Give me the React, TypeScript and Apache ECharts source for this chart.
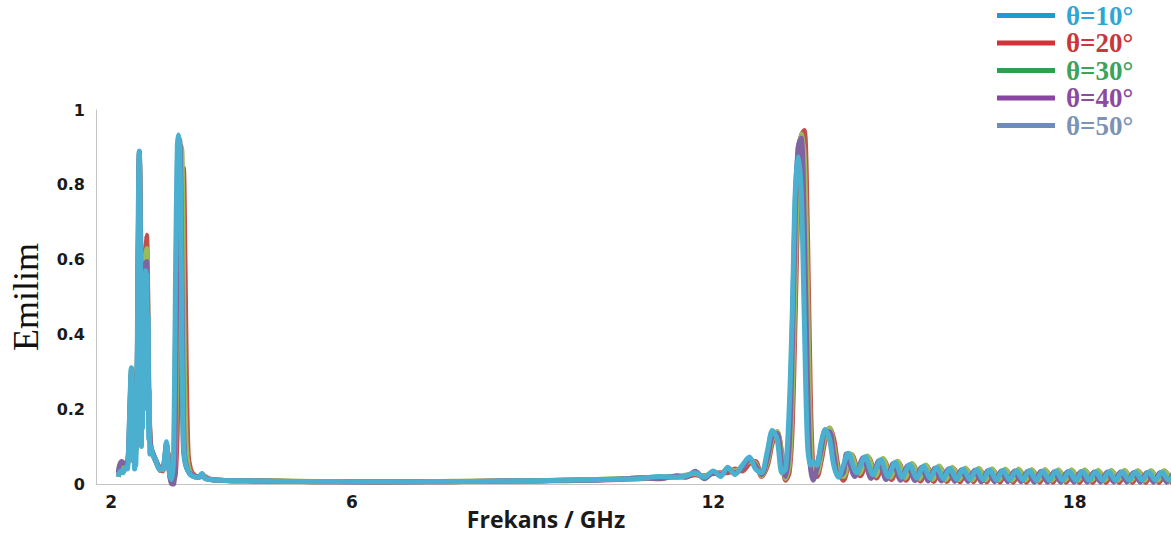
import React, { useEffect, useRef } from "react";
import * as echarts from "echarts";

// ---------- Frequency samples (GHz) ----------
// low-band samples shared by θ=20°..50°
const freqLeft = [
  2.12, 2.14, 2.18, 2.22, 2.26, 2.29, 2.31, 2.34, 2.37, 2.4,
  2.43, 2.45, 2.47, 2.49, 2.51, 2.53, 2.55, 2.57, 2.59, 2.61,
  2.63, 2.66, 2.7, 2.74, 2.78, 2.82, 2.86, 2.89, 2.92, 2.95,
  2.98, 3.01, 3.04, 3.07, 3.1, 3.12, 3.14, 3.16, 3.18, 3.2,
  3.22, 3.25, 3.28, 3.32, 3.37, 3.42, 3.47, 3.51, 3.56, 3.65,
  3.8, 4.0,
];
// low-band samples of θ=10° (denser, it oscillates fast there)
const freqLeft10 = [
  2.12, 2.16, 2.2, 2.24, 2.27, 2.29, 2.31, 2.335, 2.355, 2.37,
  2.38, 2.39, 2.4, 2.41, 2.42, 2.435, 2.45, 2.468, 2.485, 2.5,
  2.505, 2.515, 2.525, 2.535, 2.545, 2.555, 2.565, 2.575, 2.585, 2.595,
  2.605, 2.615, 2.625, 2.635, 2.645, 2.66, 2.7, 2.74, 2.78, 2.82,
  2.86, 2.89, 2.92, 2.95, 2.98, 3.01, 3.04, 3.07, 3.1, 3.12,
  3.14, 3.16, 3.18, 3.2, 3.22, 3.25, 3.28, 3.32, 3.37, 3.42,
  3.47, 3.51, 3.56, 3.65, 3.8, 4.0,
];
const freqMid = [4.5, 5.0, 5.5, 6.0, 6.5, 7.0, 7.5, 8.0, 8.5, 9.0, 9.5, 10.0, 10.4, 10.8, 11.1, 11.4];
const freqPeak = [
  11.55, 11.7, 11.85, 12.0, 12.12, 12.24, 12.36, 12.48, 12.6, 12.7,
  12.8, 12.9, 12.98, 13.06, 13.14, 13.2, 13.26, 13.31, 13.36, 13.41,
  13.46, 13.51, 13.56, 13.61, 13.66, 13.72, 13.79, 13.86, 13.93, 14.0,
  14.08, 14.16,
];
// ripple tail: each curve's crests sit at slightly different frequencies
const freqTail10 = [
  14.24, 14.38, 14.52, 14.65, 14.78, 14.9, 15.02, 15.14, 15.26, 15.38,
  15.49, 15.6, 15.71, 15.82, 15.93, 16.04, 16.15, 16.26, 16.37, 16.48,
  16.59, 16.7, 16.81, 16.92, 17.03, 17.14, 17.25, 17.36, 17.47, 17.58,
  17.69, 17.8, 17.91, 18.02, 18.13, 18.24, 18.35, 18.46, 18.57, 18.68,
  18.79, 18.9, 19.01, 19.12, 19.23, 19.34, 19.45, 19.56, 19.67,
];
const freqTail20 = [
  14.3, 14.44, 14.58, 14.71, 14.84, 14.96, 15.08, 15.2, 15.32, 15.44,
  15.55, 15.66, 15.77, 15.88, 15.99, 16.1, 16.21, 16.32, 16.43, 16.54,
  16.65, 16.76, 16.87, 16.98, 17.09, 17.2, 17.31, 17.42, 17.53, 17.64,
  17.75, 17.86, 17.97, 18.08, 18.19, 18.3, 18.41, 18.52, 18.63, 18.74,
  18.85, 18.96, 19.07, 19.18, 19.29, 19.4, 19.51, 19.62, 19.73,
];
const freqTail30 = [
  14.28, 14.42, 14.56, 14.69, 14.82, 14.94, 15.06, 15.18, 15.3, 15.42,
  15.53, 15.64, 15.75, 15.86, 15.97, 16.08, 16.19, 16.3, 16.41, 16.52,
  16.63, 16.74, 16.85, 16.96, 17.07, 17.18, 17.29, 17.4, 17.51, 17.62,
  17.73, 17.84, 17.95, 18.06, 18.17, 18.28, 18.39, 18.5, 18.61, 18.72,
  18.83, 18.94, 19.05, 19.16, 19.27, 19.38, 19.49, 19.6, 19.71,
];
const freqTail40 = [
  14.21, 14.35, 14.49, 14.62, 14.75, 14.87, 14.99, 15.11, 15.23, 15.35,
  15.46, 15.57, 15.68, 15.79, 15.9, 16.01, 16.12, 16.23, 16.34, 16.45,
  16.56, 16.67, 16.78, 16.89, 17.0, 17.11, 17.22, 17.33, 17.44, 17.55,
  17.66, 17.77, 17.88, 17.99, 18.1, 18.21, 18.32, 18.43, 18.54, 18.65,
  18.76, 18.87, 18.98, 19.09, 19.2, 19.31, 19.42, 19.53, 19.64,
];
const freqTail50 = [
  14.26, 14.4, 14.54, 14.67, 14.8, 14.92, 15.04, 15.16, 15.28, 15.4,
  15.51, 15.62, 15.73, 15.84, 15.95, 16.06, 16.17, 16.28, 16.39, 16.5,
  16.61, 16.72, 16.83, 16.94, 17.05, 17.16, 17.27, 17.38, 17.49, 17.6,
  17.71, 17.82, 17.93, 18.04, 18.15, 18.26, 18.37, 18.48, 18.59, 18.7,
  18.81, 18.92, 19.03, 19.14, 19.25, 19.36, 19.47, 19.58, 19.69,
];

// ---------- θ=10° ----------
const t10Left = [
  0.02, 0.035, 0.03, 0.045, 0.04, 0.09, 0.2, 0.31, 0.2, 0.06,
  0.1, 0.04, 0.1, 0.05, 0.12, 0.35, 0.7, 0.89, 0.7, 0.3,
  0.1, 0.45, 0.15, 0.5, 0.2, 0.55, 0.25, 0.57, 0.3, 0.56,
  0.25, 0.45, 0.12, 0.25, 0.08, 0.1, 0.075, 0.065, 0.045, 0.04,
  0.04, 0.07, 0.113, 0.06, 0.02, 0.012, 0.08, 0.55, 0.9, 0.933,
  0.9, 0.7, 0.35, 0.12, 0.07, 0.045, 0.035, 0.025, 0.02, 0.018,
  0.02, 0.028, 0.015, 0.012, 0.01, 0.009,
];
const t10Mid = [0.008, 0.007, 0.007, 0.006, 0.006, 0.006, 0.007, 0.007, 0.008, 0.009, 0.01, 0.011, 0.013, 0.015, 0.02, 0.018];
const t10Peak = [
  0.022, 0.03, 0.018, 0.035, 0.02, 0.045, 0.025, 0.05, 0.072, 0.04,
  0.03, 0.09, 0.143, 0.12, 0.03, 0.04, 0.2, 0.45, 0.78, 0.875,
  0.78, 0.45, 0.12, 0.05, 0.06, 0.05, 0.11, 0.145, 0.12, 0.05,
  0.018, 0.05,
];
const t10Tail = [
  0.082, 0.03, 0.073, 0.025, 0.065, 0.02, 0.058, 0.018, 0.052, 0.016,
  0.048, 0.015, 0.045, 0.014, 0.042, 0.013, 0.04, 0.012, 0.039, 0.012,
  0.038, 0.011, 0.037, 0.011, 0.036, 0.011, 0.036, 0.01, 0.035, 0.01,
  0.035, 0.01, 0.034, 0.01, 0.034, 0.01, 0.033, 0.01, 0.033, 0.01,
  0.033, 0.01, 0.032, 0.01, 0.032, 0.01, 0.032, 0.01, 0.031,
];

// ---------- θ=20° ----------
const t20Left = [
  0.02, 0.03, 0.04, 0.045, 0.045, 0.07, 0.15, 0.29, 0.15, 0.07,
  0.2, 0.55, 0.87, 0.7, 0.35, 0.3, 0.45, 0.6, 0.665, 0.5,
  0.22, 0.1, 0.08, 0.065, 0.05, 0.04, 0.035, 0.05, 0.09, 0.08,
  0.03, 0.01, 0.01, 0.03, 0.15, 0.35, 0.6, 0.78, 0.84, 0.845,
  0.7, 0.3, 0.08, 0.04, 0.025, 0.02, 0.018, 0.025, 0.02, 0.013,
  0.01, 0.009,
];
const t20Mid = [0.008, 0.007, 0.006, 0.006, 0.005, 0.006, 0.006, 0.007, 0.008, 0.009, 0.009, 0.011, 0.012, 0.017, 0.014, 0.022];
const t20Peak = [
  0.02, 0.025, 0.022, 0.028, 0.03, 0.03, 0.04, 0.035, 0.055, 0.06,
  0.02, 0.05, 0.11, 0.14, 0.08, 0.01, 0.03, 0.15, 0.45, 0.78,
  0.93, 0.945, 0.7, 0.25, 0.03, 0.02, 0.06, 0.12, 0.15, 0.12,
  0.04, 0.01,
];
const t20Tail = [
  0.078, 0.022, 0.07, 0.016, 0.062, 0.012, 0.056, 0.01, 0.05, 0.008,
  0.046, 0.007, 0.043, 0.007, 0.041, 0.006, 0.039, 0.006, 0.038, 0.006,
  0.037, 0.005, 0.036, 0.005, 0.036, 0.005, 0.035, 0.005, 0.035, 0.005,
  0.034, 0.005, 0.034, 0.004, 0.034, 0.004, 0.033, 0.004, 0.033, 0.004,
  0.033, 0.004, 0.033, 0.004, 0.032, 0.004, 0.032, 0.004, 0.032,
];

// ---------- θ=30° ----------
const t30Left = [
  0.02, 0.03, 0.04, 0.045, 0.05, 0.08, 0.17, 0.3, 0.14, 0.075,
  0.22, 0.58, 0.88, 0.66, 0.38, 0.35, 0.48, 0.6, 0.63, 0.46,
  0.2, 0.095, 0.078, 0.062, 0.048, 0.038, 0.038, 0.06, 0.1, 0.07,
  0.025, 0.01, 0.02, 0.1, 0.4, 0.65, 0.85, 0.905, 0.88, 0.6,
  0.3, 0.1, 0.05, 0.03, 0.022, 0.019, 0.02, 0.026, 0.018, 0.012,
  0.01, 0.009,
];
const t30Mid = [0.009, 0.008, 0.007, 0.007, 0.006, 0.006, 0.007, 0.008, 0.008, 0.009, 0.01, 0.012, 0.014, 0.014, 0.019, 0.02];
const t30Peak = [
  0.024, 0.028, 0.02, 0.032, 0.028, 0.04, 0.035, 0.045, 0.06, 0.055,
  0.022, 0.06, 0.12, 0.14, 0.07, 0.015, 0.05, 0.22, 0.55, 0.85,
  0.935, 0.88, 0.55, 0.15, 0.03, 0.03, 0.075, 0.13, 0.15, 0.1,
  0.03, 0.02,
];
const t30Tail = [
  0.08, 0.028, 0.075, 0.022, 0.068, 0.018, 0.061, 0.016, 0.055, 0.014,
  0.051, 0.013, 0.048, 0.012, 0.045, 0.012, 0.043, 0.011, 0.042, 0.011,
  0.041, 0.011, 0.04, 0.01, 0.04, 0.01, 0.039, 0.01, 0.039, 0.01,
  0.038, 0.01, 0.038, 0.01, 0.038, 0.01, 0.037, 0.01, 0.037, 0.01,
  0.037, 0.01, 0.036, 0.01, 0.036, 0.01, 0.036, 0.01, 0.036,
];

// ---------- θ=40° ----------
const t40Left = [
  0.03, 0.05, 0.06, 0.055, 0.05, 0.08, 0.18, 0.3, 0.13, 0.08,
  0.23, 0.6, 0.885, 0.63, 0.4, 0.4, 0.5, 0.59, 0.595, 0.43,
  0.19, 0.1, 0.08, 0.065, 0.05, 0.04, 0.042, 0.065, 0.105, 0.065,
  0.015, 0.0, 0.0, 0.2, 0.7, 0.88, 0.92, 0.8, 0.5, 0.2,
  0.08, 0.05, 0.035, 0.028, 0.022, 0.02, 0.02, 0.027, 0.016, 0.012,
  0.01, 0.009,
];
const t40Mid = [0.008, 0.007, 0.006, 0.006, 0.006, 0.006, 0.006, 0.007, 0.008, 0.008, 0.01, 0.01, 0.013, 0.016, 0.015, 0.021];
const t40Peak = [
  0.018, 0.034, 0.014, 0.03, 0.026, 0.038, 0.03, 0.042, 0.065, 0.05,
  0.025, 0.07, 0.13, 0.135, 0.05, 0.02, 0.1, 0.35, 0.7, 0.9,
  0.925, 0.7, 0.3, 0.05, 0.01, 0.04, 0.09, 0.14, 0.14, 0.08,
  0.02, 0.03,
];
const t40Tail = [
  0.08, 0.02, 0.07, 0.015, 0.062, 0.012, 0.055, 0.01, 0.049, 0.009,
  0.045, 0.008, 0.042, 0.008, 0.04, 0.007, 0.038, 0.007, 0.037, 0.006,
  0.036, 0.006, 0.035, 0.006, 0.035, 0.006, 0.034, 0.005, 0.034, 0.005,
  0.033, 0.005, 0.033, 0.005, 0.033, 0.005, 0.032, 0.005, 0.032, 0.005,
  0.032, 0.005, 0.031, 0.005, 0.031, 0.005, 0.031, 0.005, 0.031,
];

// ---------- θ=50° ----------
const t50Left = [
  0.02, 0.035, 0.045, 0.05, 0.05, 0.09, 0.19, 0.31, 0.12, 0.08,
  0.24, 0.61, 0.89, 0.62, 0.46, 0.55, 0.56, 0.5, 0.45, 0.35,
  0.17, 0.09, 0.076, 0.06, 0.046, 0.036, 0.04, 0.068, 0.11, 0.062,
  0.02, 0.01, 0.04, 0.4, 0.85, 0.925, 0.88, 0.65, 0.3, 0.1,
  0.065, 0.045, 0.035, 0.025, 0.02, 0.018, 0.02, 0.027, 0.015, 0.012,
  0.01, 0.009,
];
const t50Mid = [0.008, 0.007, 0.007, 0.006, 0.006, 0.006, 0.007, 0.007, 0.008, 0.009, 0.01, 0.011, 0.013, 0.015, 0.018, 0.019];
const t50Peak = [
  0.02, 0.03, 0.016, 0.033, 0.022, 0.042, 0.028, 0.047, 0.07, 0.045,
  0.028, 0.08, 0.138, 0.13, 0.04, 0.03, 0.15, 0.4, 0.75, 0.9,
  0.93, 0.65, 0.25, 0.06, 0.03, 0.05, 0.1, 0.145, 0.13, 0.06,
  0.02, 0.04,
];
const t50Tail = [
  0.08, 0.028, 0.071, 0.023, 0.063, 0.019, 0.056, 0.017, 0.05, 0.015,
  0.046, 0.014, 0.043, 0.013, 0.041, 0.012, 0.039, 0.012, 0.038, 0.011,
  0.037, 0.011, 0.036, 0.011, 0.035, 0.01, 0.035, 0.01, 0.034, 0.01,
  0.034, 0.01, 0.033, 0.01, 0.033, 0.01, 0.033, 0.01, 0.032, 0.01,
  0.032, 0.01, 0.032, 0.01, 0.031, 0.01, 0.031, 0.01, 0.031,
];

const seriesNames = ["θ=10°", "θ=20°", "θ=30°", "θ=40°", "θ=50°"];
const plotColors = ["#4bb0cf", "#c0504d", "#9bbb59", "#8064a2", "#4f81bd"];
const legendLineColors = ["#1e9bd7", "#d0343a", "#2f9e4e", "#8a44a2", "#6e8bbd"];
const legendTextColors = ["#2ea6d6", "#c9373b", "#3ba35a", "#8c4b9e", "#7c93b5"];
const xTickValues = [2, 6, 12, 18];
const drawOrder = [4, 1, 2, 3, 0];

function pairs(xs: number[], ys: number[]) {
  return xs.map((x, i) => [x, ys[i]]);
}

export default function App() {
  const ref = useRef<HTMLDivElement>(null);

  useEffect(() => {
    if (!ref.current) return;
    const chart = echarts.init(ref.current, null, { renderer: "svg" });

    const curves = [
      [...pairs(freqLeft10, t10Left), ...pairs(freqMid, t10Mid), ...pairs(freqPeak, t10Peak), ...pairs(freqTail10, t10Tail)],
      [...pairs(freqLeft, t20Left), ...pairs(freqMid, t20Mid), ...pairs(freqPeak, t20Peak), ...pairs(freqTail20, t20Tail)],
      [...pairs(freqLeft, t30Left), ...pairs(freqMid, t30Mid), ...pairs(freqPeak, t30Peak), ...pairs(freqTail30, t30Tail)],
      [...pairs(freqLeft, t40Left), ...pairs(freqMid, t40Mid), ...pairs(freqPeak, t40Peak), ...pairs(freqTail40, t40Tail)],
      [...pairs(freqLeft, t50Left), ...pairs(freqMid, t50Mid), ...pairs(freqPeak, t50Peak), ...pairs(freqTail50, t50Tail)],
    ];

    chart.setOption({
      animation: false,
      backgroundColor: "#ffffff",
      grid: { left: 96, right: 0, top: 110, bottom: 52, containLabel: false },
      xAxis: {
        type: "value",
        min: 1.75,
        max: 19.6,
        axisLine: { show: true, lineStyle: { color: "#c4c4c4", width: 1 } },
        axisTick: { show: false },
        splitLine: { show: false },
        axisLabel: {
          customValues: xTickValues,
          color: "#1a1a1a",
          fontFamily: "DejaVu Sans",
          fontWeight: "bold",
          fontSize: 17,
          margin: 9,
        },
      },
      yAxis: {
        type: "value",
        min: 0,
        max: 1,
        interval: 0.2,
        axisLine: { show: true, lineStyle: { color: "#c4c4c4", width: 1 } },
        axisTick: { show: false },
        splitLine: { show: false },
        axisLabel: {
          color: "#1a1a1a",
          fontFamily: "DejaVu Sans",
          fontWeight: "bold",
          fontSize: 16,
          margin: 11,
        },
        name: "Emilim",
        nameLocation: "middle",
        nameGap: 52,
        nameTextStyle: {
          fontFamily: "Liberation Serif",
          fontSize: 36,
          color: "#111111",
        },
      },
      legend: {
        orient: "vertical",
        left: 997,
        top: 2,
        padding: 0,
        icon: "rect",
        itemWidth: 58,
        itemHeight: 5,
        itemGap: 0.5,
        selectedMode: false,
        textStyle: {
          fontFamily: "Liberation Serif",
          fontWeight: "bold",
          fontSize: 27,
          lineHeight: 25,
          padding: [0, 0, 0, 6],
        },
        data: seriesNames.map((n, i) => ({
          name: n,
          itemStyle: { color: legendLineColors[i] },
          textStyle: { color: legendTextColors[i] },
        })),
      },
      graphic: [
        {
          type: "text",
          x: 546,
          y: 519,
          style: {
            text: "Frekans / GHz",
            fontFamily: "Open Sans",
            fontWeight: "bold",
            fontSize: 23,
            fill: "#1a1a1a",
            align: "center",
            verticalAlign: "middle",
          },
        },
      ],
      series: drawOrder.map((i, k) => ({
        type: "line",
        name: seriesNames[i],
        data: curves[i],
        symbol: "none",
        showSymbol: false,
        smooth: 0.3,
        clip: false,
        z: 2 + k,
        lineStyle: { width: 5, color: plotColors[i] },
        itemStyle: { color: plotColors[i] },
      })),
    });

    return () => chart.dispose();
  }, []);

  return (
    <div
      ref={ref}
      style={{ position: "fixed", left: 0, top: 0, width: 1171, height: 536, background: "#fff" }}
    />
  );
}
